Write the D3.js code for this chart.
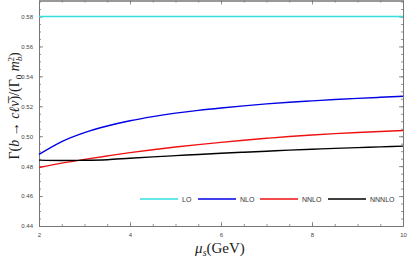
<!DOCTYPE html>
<html>
<head>
<meta charset="utf-8">
<script src="https://cdn.jsdelivr.net/npm/d3@7"></script>
<style>
  body { margin: 0; background: #fff; }
  svg { display: block; }
</style>
</head>
<body>
<div id="chart"></div>
<script>
// scale mu_s (GeV)
const MU = [2, 2.5, 3, 3.5, 4, 4.5, 5, 5.5, 6, 6.5, 7, 7.5, 8, 8.5, 9, 9.5, 10];

const LO    = [0.58, 0.58, 0.58, 0.58, 0.58, 0.58, 0.58, 0.58, 0.58, 0.58, 0.58, 0.58, 0.58, 0.58, 0.58, 0.58, 0.58];
const NLO   = [0.4878, 0.4964, 0.5024, 0.5068, 0.5103, 0.5131, 0.5154, 0.5173, 0.5189, 0.5203, 0.5216, 0.5227, 0.5236, 0.5245, 0.5253, 0.5260, 0.5267];
const NNLO  = [0.4791, 0.4820, 0.4845, 0.4868, 0.4890, 0.4910, 0.4928, 0.4944, 0.4959, 0.4973, 0.4986, 0.4998, 0.5008, 0.5017, 0.5025, 0.5032, 0.5038];
const NNNLO = [0.4840, 0.4838, 0.4839, 0.4843, 0.4853, 0.4862, 0.4870, 0.4878, 0.4886, 0.4893, 0.4900, 0.4907, 0.4913, 0.4919, 0.4924, 0.4929, 0.4934];

const X_TICKS = [2, 4, 6, 8, 10];
const Y_TICKS = [0.44, 0.46, 0.48, 0.50, 0.52, 0.54, 0.56, 0.58];

const SERIES = [
  { name: "LO",    values: LO,    color: "#33e0e0" },
  { name: "NLO",   values: NLO,   color: "#0000e6" },
  { name: "NNLO",  values: NNLO,  color: "#ee1111" },
  { name: "NNNLO", values: NNNLO, color: "#000000" }
];

const width = 407, height = 260;
const margin = { top: 0.5, right: 4, bottom: 34, left: 39 };
const innerW = width - margin.left - margin.right;
const innerH = height - margin.top - margin.bottom;

const svg = d3.select("#chart").append("svg")
  .attr("width", width)
  .attr("height", height);

const chart = svg.append("g")
  .attr("transform", `translate(${margin.left},${margin.top})`);

const x = d3.scaleLinear().domain([2, 10]).range([0, innerW]);
const y = d3.scaleLinear().domain([0.44, 0.5907]).range([innerH, 0]);

// minor tick values
const xMinor = d3.range(2, 10.001, 0.5);
const yMinor = d3.range(0.44, 0.5907, 0.005);

const AXIS_COLOR = "#777";

function styleAxis(g) {
  g.select(".domain").attr("stroke", AXIS_COLOR).attr("stroke-width", 1);
  g.selectAll(".tick line").attr("stroke", AXIS_COLOR).attr("stroke-width", 0.8);
  g.selectAll("text")
    .attr("fill", "#444")
    .style("font-family", "Liberation Sans, Arial, sans-serif")
    .style("font-size", "6px");
}

// frame axes, minor ticks first
chart.append("g")
  .attr("transform", `translate(0,${innerH})`)
  .call(d3.axisBottom(x).tickValues(xMinor).tickSize(-2).tickFormat("").tickSizeOuter(0))
  .call(styleAxis);
chart.append("g")
  .attr("transform", `translate(0,${innerH})`)
  .call(d3.axisBottom(x).tickValues(X_TICKS).tickSize(-4).tickPadding(7).tickFormat(d3.format("d")).tickSizeOuter(0))
  .call(styleAxis);

chart.append("g")
  .call(d3.axisTop(x).tickValues(xMinor).tickSize(-2).tickFormat("").tickSizeOuter(0))
  .call(styleAxis);
chart.append("g")
  .call(d3.axisTop(x).tickValues(X_TICKS).tickSize(-4).tickFormat("").tickSizeOuter(0))
  .call(styleAxis);

chart.append("g")
  .call(d3.axisLeft(y).tickValues(yMinor).tickSize(-2).tickFormat("").tickSizeOuter(0))
  .call(styleAxis);
chart.append("g")
  .call(d3.axisLeft(y).tickValues(Y_TICKS).tickSize(-4).tickPadding(6).tickFormat(d3.format(".2f")).tickSizeOuter(0))
  .call(styleAxis);

chart.append("g")
  .attr("transform", `translate(${innerW},0)`)
  .call(d3.axisRight(y).tickValues(yMinor).tickSize(-2).tickFormat("").tickSizeOuter(0))
  .call(styleAxis);
chart.append("g")
  .attr("transform", `translate(${innerW},0)`)
  .call(d3.axisRight(y).tickValues(Y_TICKS).tickSize(-4).tickFormat("").tickSizeOuter(0))
  .call(styleAxis);

// lines
const line = d3.line()
  .x((d, i) => x(MU[i]))
  .y(d => y(d))
  .curve(d3.curveMonotoneX);

SERIES.forEach(s => {
  chart.append("path")
    .datum(s.values)
    .attr("fill", "none")
    .attr("stroke", s.color)
    .attr("stroke-width", 1.4)
    .attr("d", line);
});

// legend
const legendX = [140, 198, 260, 328];
const legend = svg.append("g").attr("transform", "translate(0,199)");
SERIES.forEach((s, i) => {
  legend.append("line")
    .attr("x1", legendX[i]).attr("x2", legendX[i] + 38)
    .attr("y1", 0).attr("y2", 0)
    .attr("stroke", s.color)
    .attr("stroke-width", 1.4);
  legend.append("text")
    .attr("x", legendX[i] + 42)
    .attr("y", 2.5)
    .attr("fill", "#333")
    .style("font-family", "Liberation Sans, Arial, sans-serif")
    .style("font-size", "7px")
    .text(s.name);
});

// axis titles
const serif = "Liberation Serif, Times New Roman, serif";

const xt = svg.append("text")
  .attr("x", 220)
  .attr("y", 253)
  .attr("text-anchor", "middle")
  .style("font-family", serif)
  .style("font-size", "15px")
  .attr("fill", "#222");
xt.append("tspan").attr("font-style", "italic").text("μ");
xt.append("tspan").attr("font-style", "italic").attr("font-size", "10px").attr("dy", 3).text("s");
xt.append("tspan").attr("dy", -3).text("(GeV)");

const yt = svg.append("text")
  .attr("transform", "translate(19,106) rotate(-90)")
  .attr("text-anchor", "middle")
  .style("font-family", serif)
  .style("font-size", "14px")
  .attr("fill", "#222");
yt.append("tspan").text("Γ(");
yt.append("tspan").attr("font-style", "italic").text("b");
yt.append("tspan").text(" → ");
yt.append("tspan").attr("font-style", "italic").text("cℓ\u03BD\u0305");
yt.append("tspan").text(")/(Γ");
yt.append("tspan").attr("font-size", "9px").attr("dy", 3).text("0");
yt.append("tspan").attr("font-style", "italic").attr("dy", -3).text(" m");
yt.append("tspan").attr("font-style", "italic").attr("font-size", "9px").attr("dy", 3).text("b");
yt.append("tspan").attr("font-size", "9px").attr("dy", -8).attr("dx", -5).text("2");
yt.append("tspan").attr("dy", 5).text(")");
</script>
</body>
</html>
